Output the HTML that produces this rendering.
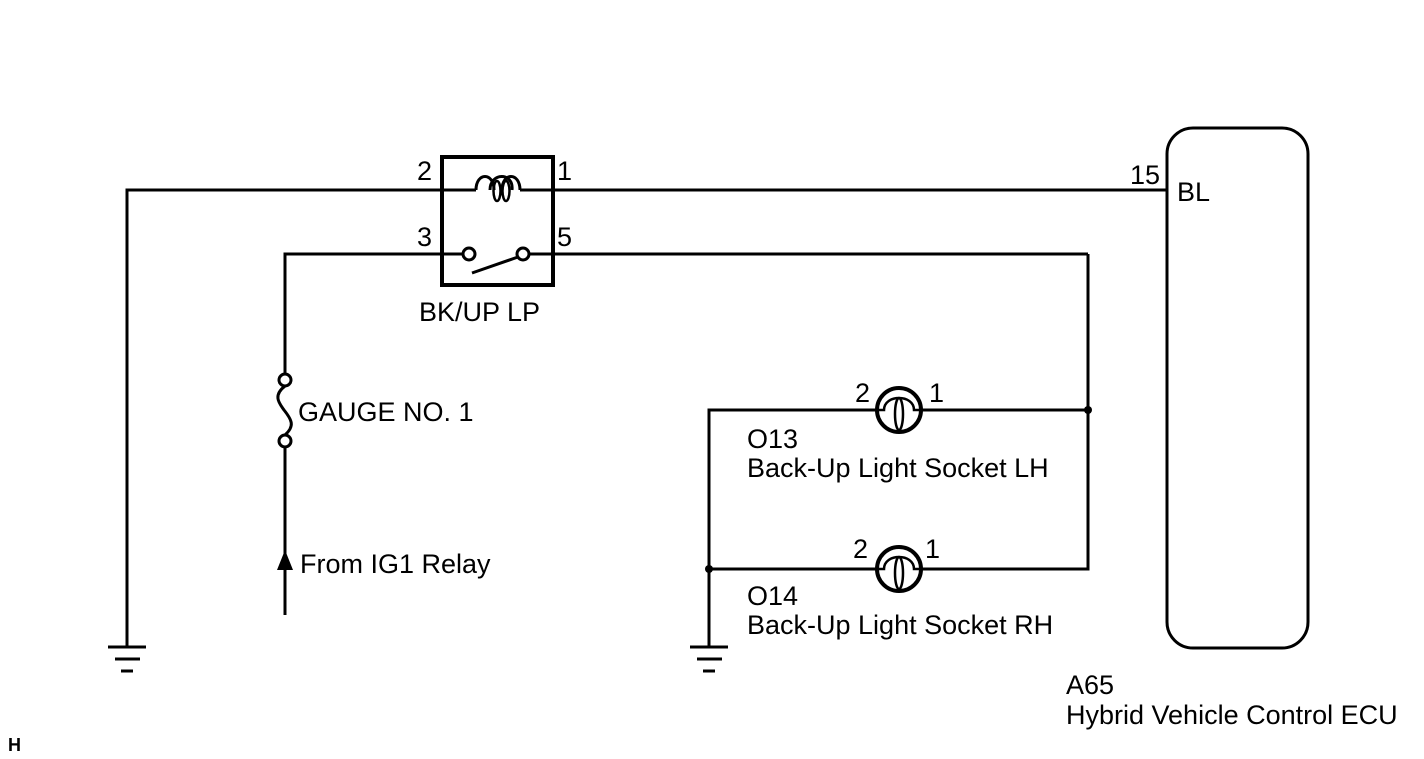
<!DOCTYPE html>
<html><head><style>body{margin:0;background:#fff}svg{display:block}text{font-family:"Liberation Sans",sans-serif;font-size:27px;fill:#000}</style></head><body>
<svg width="1424" height="759" viewBox="0 0 1424 759" xmlns="http://www.w3.org/2000/svg">
<g stroke="#000" stroke-width="3" fill="none">
<polyline points="127,648 127,190 442,190"/>
<line x1="442" y1="190" x2="476" y2="190"/>
<line x1="520" y1="190" x2="1167" y2="190"/>
<path d="M476,190 C476,172 494,172 494,190"/>
<path d="M502,190 C502,172 520,172 520,190"/>
<path d="M490,190 C490,172 514,172 512,190"/>
<ellipse cx="497" cy="191" rx="3.5" ry="10" stroke-width="2.5"/>
<ellipse cx="506" cy="191" rx="3.5" ry="10" stroke-width="2.5"/>
<rect x="442" y="157" width="111" height="128" stroke-width="4"/>
<polyline points="285,374 285,254 463,254"/>
<line x1="529" y1="254" x2="1088" y2="254"/>
<circle cx="469" cy="254" r="6"/><circle cx="523" cy="254" r="6"/>
<line x1="472" y1="273" x2="518" y2="257"/>
<circle cx="285" cy="380" r="6"/><circle cx="285" cy="441" r="6"/>
<path d="M285,386 C272,396 280,404 284,410 C292,420 295,426 285,435"/>
<line x1="285" y1="447" x2="285" y2="615"/>
<line x1="108" y1="647" x2="146" y2="647"/><line x1="115" y1="659" x2="140" y2="659"/><line x1="121" y1="671" x2="133" y2="671"/>
<line x1="690" y1="647" x2="728" y2="647"/><line x1="697" y1="659" x2="722" y2="659"/><line x1="703" y1="671" x2="715" y2="671"/>
<polyline points="1088,254 1088,569 921,569"/>
<line x1="1088" y1="410" x2="921" y2="410"/>
<polyline points="877,410 709,410 709,648"/>
<line x1="709" y1="569" x2="877" y2="569"/>
<circle cx="899" cy="410" r="22" stroke-width="4"/>
<circle cx="899" cy="569" r="22" stroke-width="4"/>
<path d="M877,410 L884,410 C884,394 914,394 914,410 L921,410" stroke-width="2.5"/>
<ellipse cx="899" cy="414" rx="4" ry="16" stroke-width="2.5"/>
<path d="M877,569 L884,569 C884,553 914,553 914,569 L921,569" stroke-width="2.5"/>
<ellipse cx="899" cy="573" rx="4" ry="16" stroke-width="2.5"/>
<rect x="1167" y="128" width="141" height="520" rx="26" ry="26"/>
</g>
<polygon points="285,550 277,570 293,570" fill="#000"/>
<circle cx="1088" cy="410" r="4" fill="#000"/>
<circle cx="709" cy="569" r="4" fill="#000"/>
<text x="417" y="180">2</text><text x="557" y="180">1</text>
<text x="417" y="246">3</text><text x="557" y="246">5</text>
<text x="419" y="321">BK/UP LP</text>
<text x="298" y="421">GAUGE NO. 1</text>
<text x="300" y="573">From IG1 Relay</text>
<text x="855" y="402">2</text><text x="929" y="402">1</text>
<text x="853" y="558">2</text><text x="925" y="558">1</text>
<text x="747" y="448">O13</text><text x="747" y="477">Back-Up Light Socket LH</text>
<text x="747" y="605">O14</text><text x="747" y="634">Back-Up Light Socket RH</text>
<text x="1130" y="184">15</text><text x="1177" y="201">BL</text>
<text x="1066" y="694">A65</text><text x="1066" y="724">Hybrid Vehicle Control ECU</text>
<text x="8" y="751" style="font-size:18px;font-weight:bold">H</text>
</svg>
</body></html>
